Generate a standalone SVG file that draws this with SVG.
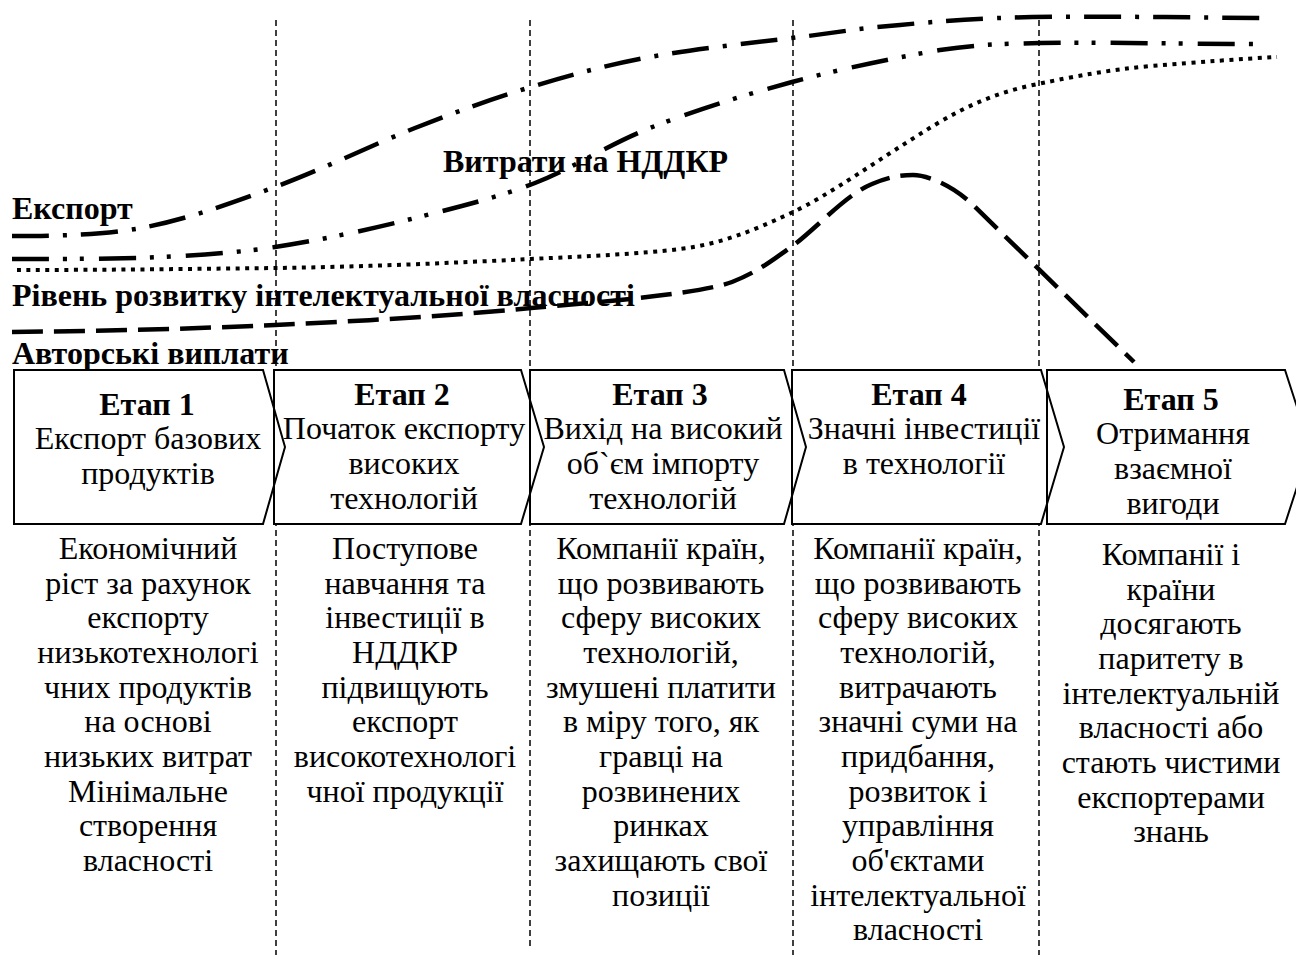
<svg xmlns="http://www.w3.org/2000/svg" width="1296" height="963" viewBox="0 0 1296 963">
<style>
  text { font-family: "Liberation Serif", "Times New Roman", serif; font-size: 32px; fill: #000; text-anchor: middle; }
  .b { font-weight: bold; }
  .lbl { font-weight: bold; text-anchor: start; }
  .vline { stroke: #000; stroke-width: 1.5; stroke-dasharray: 6 4; fill: none; }
  .chev { fill: #fff; stroke: none; }
  .chevo { fill: none; stroke: #000; stroke-width: 2; stroke-linejoin: miter; }
  .curve { fill: none; stroke: #000; stroke-width: 4.5; }
  .exp { stroke-dasharray: 37 14 4 14; }
  .rnd { stroke-dasharray: 37 14 4 13 4 15; }
  .ip { stroke-dasharray: 4 5.5; stroke-width: 4; }
  .roy { stroke-dasharray: 31 11; }
</style>

<g id="guides">
  <line class="vline" x1="276" y1="20" x2="276" y2="955"/>
  <line class="vline" x1="530" y1="20" x2="530" y2="950"/>
  <line class="vline" x1="793" y1="20" x2="793" y2="955"/>
  <line class="vline" x1="1039" y1="20" x2="1039" y2="955"/>
</g>

<g id="connectors">
  <path id="curve-export" class="curve exp" d="M12,236 C40,236 97,236 141,228 C185,220 229,204 275,187 C321,170 372,145 415,128 C458,111 492,99 531,87 C570,75 607,65 650,57 C694,49 750,43 792,38 C834,33 860,28 900,25 C940,21 982,18 1032,17 C1100,16 1190,17.5 1264,18"/>
  <path id="curve-rnd" class="curve rnd" d="M12,259 C33,259 96,259 140,258 C184,256 229,254 275,247 C321,240 372,229 415,218 C458,207 496,198 535,183 C574,168 607,145 650,128 C693,111 744,95 792,82 C840,69 899,57 940,50 C981,44 1003,44 1040,43 C1094,42 1190,44 1264,44"/>
  <path id="curve-ip" class="curve ip" d="M17,270 C100,270 190,269 275,268 C360,267 450,263 531,259 C590,256 640,254 680,249 C720,244 750,232 791,213 C830,195 880,158 938,123 C970,104 1000,92 1033,85 C1080,75 1110,70 1150,66 C1200,62 1240,59 1277,57"/>
  <path id="curve-roy" class="curve roy" d="M12,332 C100,331 190,329 275,325 C360,321 450,316 531,308 C600,302 700,294 732,282 C760,271 775,258 791,247 C815,230 845,195 872,184 C888,177 900,175 913,175 C927,175 952,185 972,204 L1134,362"/>
</g>

<g id="curve-labels">
  <text class="lbl" x="443" y="172">Витрати на НДДКР</text>
  <text class="lbl" x="12" y="219">Експорт</text>
  <text class="lbl" x="12" y="306">Рівень розвитку інтелектуальної власності</text>
  <text class="lbl" x="12" y="364">Авторські виплати</text>
</g>

<g id="chevron-fills">
  <path class="chev" d="M14,370 H263 L285,447 L263,524 H14 Z"/>
  <path class="chev" d="M274,370 H521 L544,447 L521,524 H274 Z"/>
  <path class="chev" d="M530,370 H784 L806,447 L784,524 H530 Z"/>
  <path class="chev" d="M792,370 H1041 L1064,447 L1041,524 H792 Z"/>
  <path class="chev" d="M1047,370 H1285 L1310,447 L1285,524 H1047 Z"/>
</g>

<g id="stage1">
  <path class="chevo" d="M14,370 H263 L285,447 L263,524 H14 Z"/>
  <text class="b" x="147" y="415">Етап 1</text>
  <text x="148" y="449">Експорт базових</text>
  <text x="148" y="484">продуктів</text>
  <text x="148" y="559">Економічний</text>
  <text x="148" y="594">ріст за рахунок</text>
  <text x="148" y="628">експорту</text>
  <text x="148" y="663">низькотехнологі</text>
  <text x="148" y="698">чних продуктів</text>
  <text x="148" y="732">на основі</text>
  <text x="148" y="767">низьких витрат</text>
  <text x="148" y="802">Мінімальне</text>
  <text x="148" y="836">створення</text>
  <text x="148" y="871">власності</text>
</g>

<g id="stage2">
  <path class="chevo" d="M274,370 H521 L544,447 L521,524 H274 Z"/>
  <text class="b" x="402" y="405">Етап 2</text>
  <text x="404" y="439">Початок експорту</text>
  <text x="404" y="474">високих</text>
  <text x="404" y="509">технологій</text>
  <text x="405" y="559">Поступове</text>
  <text x="405" y="594">навчання та</text>
  <text x="405" y="628">інвестиції в</text>
  <text x="405" y="663">НДДКР</text>
  <text x="405" y="698">підвищують</text>
  <text x="405" y="732">експорт</text>
  <text x="405" y="767">високотехнологі</text>
  <text x="405" y="802">чної продукції</text>
</g>

<g id="stage3">
  <path class="chevo" d="M530,370 H784 L806,447 L784,524 H530 Z"/>
  <text class="b" x="660" y="405">Етап 3</text>
  <text x="663" y="439">Вихід на високий</text>
  <text x="663" y="474">об`єм імпорту</text>
  <text x="663" y="509">технологій</text>
  <text x="661" y="559">Компанії країн,</text>
  <text x="661" y="594">що розвивають</text>
  <text x="661" y="628">сферу високих</text>
  <text x="661" y="663">технологій,</text>
  <text x="661" y="698">змушені платити</text>
  <text x="661" y="732">в міру того, як</text>
  <text x="661" y="767">гравці на</text>
  <text x="661" y="802">розвинених</text>
  <text x="661" y="836">ринках</text>
  <text x="661" y="871">захищають свої</text>
  <text x="661" y="906">позиції</text>
</g>

<g id="stage4">
  <path class="chevo" d="M792,370 H1041 L1064,447 L1041,524 H792 Z"/>
  <text class="b" x="919" y="405">Етап 4</text>
  <text x="924" y="439">Значні інвестиції</text>
  <text x="924" y="474">в технології</text>
  <text x="918" y="559">Компанії країн,</text>
  <text x="918" y="594">що розвивають</text>
  <text x="918" y="628">сферу високих</text>
  <text x="918" y="663">технологій,</text>
  <text x="918" y="698">витрачають</text>
  <text x="918" y="732">значні суми на</text>
  <text x="918" y="767">придбання,</text>
  <text x="918" y="802">розвиток і</text>
  <text x="918" y="836">управління</text>
  <text x="918" y="871">об'єктами</text>
  <text x="918" y="906">інтелектуальної</text>
  <text x="918" y="940">власності</text>
</g>

<g id="stage5">
  <path class="chevo" d="M1047,370 H1285 L1310,447 L1285,524 H1047 Z"/>
  <text class="b" x="1171" y="410">Етап 5</text>
  <text x="1173" y="444">Отримання</text>
  <text x="1173" y="479">взаємної</text>
  <text x="1173" y="514">вигоди</text>
  <text x="1171" y="565">Компанії і</text>
  <text x="1171" y="600">країни</text>
  <text x="1171" y="634">досягають</text>
  <text x="1171" y="669">паритету в</text>
  <text x="1171" y="704">інтелектуальній</text>
  <text x="1171" y="738">власності або</text>
  <text x="1171" y="773">стають чистими</text>
  <text x="1171" y="808">експортерами</text>
  <text x="1171" y="842">знань</text>
</g>
</svg>
